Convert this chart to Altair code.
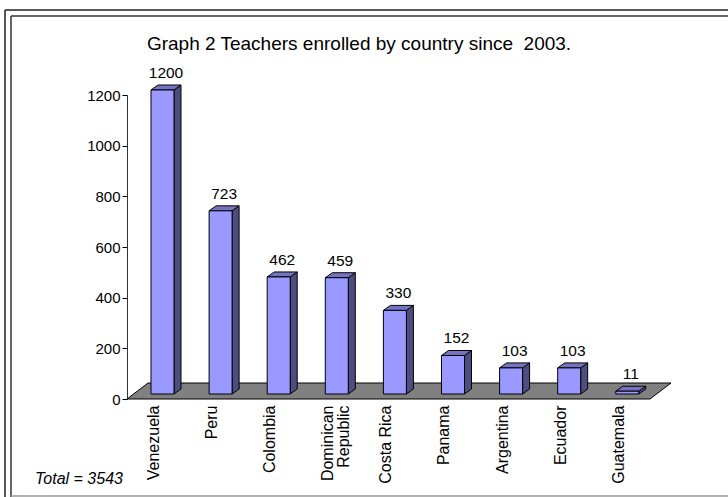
import json
import altair as alt
import pandas as pd

# ---- data ----
countries = ["Venezuela", "Peru", "Colombia", "Dominican|Republic", "Costa Rica",
             "Panama", "Argentina", "Ecuador", "Guatemala"]
teachers = [1200, 723, 462, 459, 330, 152, 103, 103, 11]
y_ticks = [0, 200, 400, 600, 800, 1000, 1200]
title_text = "Graph 2 Teachers enrolled by country since  2003."
total_text = "Total = " + str(sum(teachers))

# ---- geometry of the pseudo-3D drawing (pixels -> data units) ----
W, H = 523, 304
X0, X1 = -0.611, 8.391
Y0, Y1 = 0, 1200
px_x = W / (X1 - X0)
px_y = H / (Y1 - Y0)
half = 11.5 / px_x          # half bar width
ddx = 7 / px_x              # depth offset in x
ddy = 5 / px_y              # depth offset in y
base = ddy                  # bars stand a little behind the floor front edge
floor_d = 16 / px_y
floor_dx = 21 / px_x

FONT = "Liberation Sans"
FRONT = "#9999FF"
SIDE = "#4D4D80"
TOP = "#7373C0"

idx = list(range(len(countries)))

front = pd.DataFrame({
    "i": idx,
    "xl": [i - half for i in idx],
    "xr": [i + half for i in idx],
    "yb": [base] * len(idx),
    "yt": [base + v for v in teachers],
    "v": teachers,
})

side_rows, top_rows = [], []
for i, v in zip(idx, teachers):
    yt = base + v
    side_rows.append({"bar": i, "x": i + half, "ya": yt, "yb": base})
    side_rows.append({"bar": i, "x": i + half + ddx, "ya": yt + ddy, "yb": base + ddy})
    top_rows.append({"bar": i, "y": yt, "xa": i - half, "xb": i + half})
    top_rows.append({"bar": i, "y": yt + ddy, "xa": i - half + ddx, "xb": i + half + ddx})
side = pd.DataFrame(side_rows)
top = pd.DataFrame(top_rows)

floor = pd.DataFrame({
    "y": [0, floor_d],
    "xa": [X0, X0 + floor_dx],
    "xb": [X1, X1 + floor_dx],
})

labels = pd.DataFrame({
    "x": [i + ddx / 2 for i in idx],
    "y": [base + v + ddy for v in teachers],
    "v": teachers,
})

xscale = alt.Scale(domain=[X0, X1], nice=False, zero=False)
yscale = alt.Scale(domain=[Y0, Y1], nice=False, zero=False)

label_array = "[" + ",".join(json.dumps(c) for c in countries) + "]"
xaxis = alt.Axis(
    values=idx, labelExpr=f"split({label_array}[datum.value], '|')",
    title=None, grid=False, domain=False, ticks=False,
    labelAngle=270, labelAlign="right", labelBaseline="middle",
    labelPadding=6, labelOffset=-9, labelFontSize=16, labelLineHeight=16,
    labelColor="black", labelFont=FONT, labelOverlap=False,
)
yaxis = alt.Axis(
    values=y_ticks, format="d", title=None, grid=False, tickSize=5,
    tickColor="black", domainColor="#333333", labelColor="black",
    labelFontSize=15, labelPadding=2, labelFont=FONT,
)


def X(f):
    return alt.X(f, type="quantitative", scale=xscale, axis=xaxis)


def Y(f):
    return alt.Y(f, type="quantitative", scale=yscale, axis=yaxis)


floor_layer = alt.Chart(floor).mark_area(
    orient="horizontal", color="#808080", stroke="black", strokeWidth=1
).encode(y=Y("y"), x=X("xa"), x2="xb")

side_layer = alt.Chart(side).mark_area(
    orient="vertical", color=SIDE, stroke="black", strokeWidth=1
).encode(x=X("x"), y=Y("ya"), y2="yb", detail="bar:N")

top_layer = alt.Chart(top).mark_area(
    orient="horizontal", color=TOP, stroke="black", strokeWidth=1
).encode(y=Y("y"), x=X("xa"), x2="xb", detail="bar:N")

front_layer = alt.Chart(front).mark_rect(
    color=FRONT, stroke="black", strokeWidth=1
).encode(x=X("xl"), x2="xr", y=Y("yb"), y2="yt")

value_layer = alt.Chart(labels).mark_text(
    baseline="bottom", dy=-4, fontSize=15.5, font=FONT, color="black"
).encode(x=X("x"), y=Y("y"), text="v:Q")

# keep the double space of the original title visible (SVG collapses spaces)
one = pd.DataFrame({"t": [total_text], "title": [title_text.replace("  ", "\u00a0 ")]})
total_layer = alt.Chart(one).mark_text(
    align="left", baseline="alphabetic", fontSize=16, fontStyle="italic",
    font=FONT, color="black"
).encode(x=alt.value(-92), y=alt.value(389), text="t:N")

title_layer = alt.Chart(one).mark_text(
    align="center", baseline="alphabetic", fontSize=19, font=FONT, color="black"
).encode(x=alt.value(232), y=alt.value(-45), text="title:N")


def hline(x1, x2, y, color):
    return alt.Chart(one).mark_rule(color=color, strokeWidth=1.5).encode(
        x=alt.value(x1), x2=alt.value(x2), y=alt.value(y))


def vline(x, y1, y2, color):
    return alt.Chart(one).mark_rule(color=color, strokeWidth=1.5).encode(
        x=alt.value(x), y=alt.value(y1), y2=alt.value(y2))


frame = [
    hline(-122, 700, -85, "#222222"),
    vline(-122, -85, 420, "#222222"),
    hline(-116, 700, -79, "#333333"),
    vline(-116, -79, 420, "#333333"),
    hline(-116, 700, 401, "#999999"),
]

chart = alt.layer(
    *frame, floor_layer, side_layer, top_layer, front_layer,
    value_layer, total_layer, title_layer,
).properties(
    width=W, height=H,
    background="white",
    autosize=alt.AutoSizeParams(type="none"),
    padding={"left": 127, "top": 95, "right": 78, "bottom": 98},
).configure_view(stroke=None)

chart.save("out.html", embed_options={"renderer": "svg", "actions": False})
